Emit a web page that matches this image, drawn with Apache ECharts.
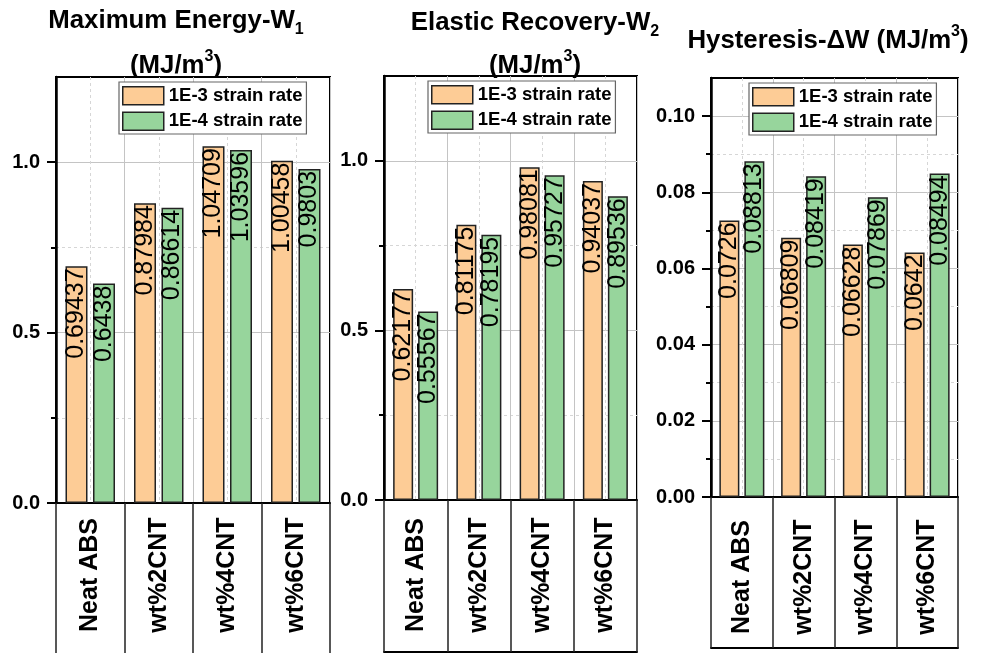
<!DOCTYPE html>
<html><head><meta charset="utf-8">
<script src="https://cdn.jsdelivr.net/npm/echarts@6/dist/echarts.min.js"></script>
<style>html,body{margin:0;padding:0;background:#fff}#c{width:984px;height:653px}</style>
</head><body><div id="c"></div>
<script>
// ---- data ----
const categories = ['Neat ABS', 'wt%2CNT', 'wt%4CNT', 'wt%6CNT'];
const seriesNames = ['1E-3 strain rate', '1E-4 strain rate'];
const w1Rate3 = [0.69437, 0.87984, 1.04709, 1.00458];
const w1Rate4 = [0.6438, 0.86614, 1.03596, 0.9803];
const w2Rate3 = [0.62177, 0.81175, 0.98081, 0.94037];
const w2Rate4 = [0.55567, 0.78195, 0.95727, 0.89536];
const dwRate3 = [0.0726, 0.06809, 0.06628, 0.0642];
const dwRate4 = [0.08813, 0.08419, 0.07869, 0.08494];
const energyTicks = [0, 0.5, 1.0];
const energyMinorTicks = [0.25, 0.75];
const hystTicks = [0, 0.02, 0.04, 0.06, 0.08, 0.10];
const hystMinorTicks = [0.01, 0.03, 0.05, 0.07, 0.09];

// ---- layout / style ----
const FONT = '"Liberation Sans", Arial, sans-serif';
const C1 = '#fdcc96', C2 = '#97d59c';
const panels = [
  {grid: {left: 56, top: 77, width: 274, height: 426}, max: 1.25, step: 0.25, major: energyTicks, minor: energyMinorTicks, dec: 1,
   a: w1Rate3, b: w1Rate4, barWidth: 22, catMargin: 72, box: 152, legend: {left: 119, top: 82}},
  {grid: {left: 384, top: 76, width: 253, height: 424}, max: 1.25, step: 0.25, major: energyTicks, minor: energyMinorTicks, dec: 1,
   a: w2Rate3, b: w2Rate4, barWidth: 20, catMargin: 75, box: 152, legend: {left: 428, top: 81}},
  {grid: {left: 711, top: 78, width: 247, height: 419}, max: 0.11, step: 0.01, major: hystTicks, minor: hystMinorTicks, dec: 2,
   a: dwRate3, b: dwRate4, barWidth: 20, catMargin: 80, box: 151, legend: {left: 749, top: 83}}
];

const TF = 25.8;
const rich = {
  a: {fontSize: TF, fontWeight: 'bold', fontFamily: FONT, color: '#000', lineHeight: 34},
  s: {fontSize: 16, fontWeight: 'bold', fontFamily: FONT, color: '#000', verticalAlign: 'bottom'},
  p: {fontSize: 16, fontWeight: 'bold', fontFamily: FONT, color: '#000', verticalAlign: 'top'}
};
function mkTitle(text, x, y) {
  return {text: text, left: x, top: y, textAlign: 'center', padding: 0, itemGap: 0,
          textStyle: {rich: rich, fontSize: TF, fontWeight: 'bold', fontFamily: FONT, color: '#000', lineHeight: 34}};
}

const grids = [], xAxes = [], yAxes = [], series = [], legends = [];
panels.forEach((p, i) => {
  grids.push(Object.assign({show: true, borderColor: '#000', borderWidth: 2, backgroundColor: 'transparent'}, p.grid));
  // category axis with box dividers
  xAxes.push({type: 'category', gridIndex: i, data: categories, position: 'bottom',
    axisLine: {show: true, lineStyle: {color: '#000', width: 2}},
    axisTick: {show: true, inside: false, length: p.box, lineStyle: {color: '#222', width: 1.5}},
    axisLabel: {rotate: 90, align: 'center', verticalAlign: 'middle', margin: p.catMargin,
      fontSize: 25, fontWeight: 'bold', fontFamily: FONT, color: '#000', interval: 0},
    splitLine: {show: false}});
  // hidden value axis for vertical grid lines (boundaries solid, centres dashed)
  xAxes.push({type: 'value', gridIndex: i, min: 0, max: categories.length, interval: 1, position: 'top',
    axisLine: {show: false}, axisTick: {show: false}, axisLabel: {show: false},
    splitLine: {show: true, lineStyle: {color: '#c4c4c4', width: 1}},
    minorTick: {show: false, splitNumber: 2},
    minorSplitLine: {show: true, lineStyle: {color: '#d6d6d6', width: 1, type: [3, 3]}}});
  // bottom line of label box
  xAxes.push({type: 'category', gridIndex: i, data: categories, position: 'bottom', offset: p.box,
    axisLine: {show: true, lineStyle: {color: '#000', width: 2}},
    axisTick: {show: false}, axisLabel: {show: false}, splitLine: {show: false}});
  yAxes.push({type: 'value', gridIndex: i, min: 0, max: p.max, interval: p.step, position: 'left',
    axisLine: {show: true, lineStyle: {color: '#000', width: 2.5}},
    axisTick: {show: true, inside: false, length: 9, customValues: p.major, lineStyle: {color: '#000', width: 2}},
    axisLabel: {show: true, customValues: p.major, margin: 16, fontSize: 20, fontWeight: 'bold', fontFamily: FONT, color: '#000',
      formatter: v => v.toFixed(p.dec)},
    splitLine: {show: true, lineStyle: {color: '#c4c4c4', width: 1}}});
  yAxes.push({type: 'value', gridIndex: i, min: 0, max: p.max, interval: p.step, position: 'left',
    axisLine: {show: false},
    axisTick: {show: true, inside: false, length: 5, customValues: p.minor, lineStyle: {color: '#000', width: 2}},
    axisLabel: {show: false},
    splitLine: {show: true, lineStyle: {color: '#d6d6d6', width: 1, type: [3, 3]}}});
  const lab = {show: true, position: 'insideTop', rotate: 90, align: 'right', verticalAlign: 'middle', distance: 2,
    fontSize: 25, fontFamily: FONT, color: '#000'};
  [p.a, p.b].forEach((d, k) => {
    series.push({type: 'bar', name: seriesNames[k], xAxisIndex: i * 3, yAxisIndex: i * 2, data: d,
      barWidth: p.barWidth, barGap: '25%',
      itemStyle: {color: k === 0 ? C1 : C2, borderColor: '#222', borderWidth: 1.5},
      label: lab, z: 3});
  });
  legends.push({left: p.legend.left, top: p.legend.top, orient: 'vertical', data: seriesNames, z: 20,
    itemWidth: 41, itemHeight: 18, itemGap: 6, padding: [4, 4, 3, 3],
    backgroundColor: '#fff', borderColor: '#666', borderWidth: 1.2,
    icon: 'rect', itemStyle: {borderColor: '#222', borderWidth: 1.5},
    textStyle: {fontSize: 18.5, fontWeight: 'bold', fontFamily: FONT, color: '#000'},
    selectedMode: false});
});

const chart = echarts.init(document.getElementById('c'), null, {renderer: 'canvas'});
chart.setOption({
  animation: false,
  backgroundColor: '#fff',
  title: [
    mkTitle('{a|Maximum Energy-W}{s|1}', 176, 4),
    mkTitle('{a|(MJ/m}{p|3}{a|)}', 176, 49),
    mkTitle('{a|Elastic Recovery-W}{s|2}', 535, 6),
    mkTitle('{a|(MJ/m}{p|3}{a|)}', 535, 49),
    mkTitle('{a|Hysteresis-\u0394W (MJ/m}{p|3}{a|)}', 828, 24)
  ],
  legend: legends,
  grid: grids,
  xAxis: xAxes,
  yAxis: yAxes,
  series: series
});
</script></body></html>
